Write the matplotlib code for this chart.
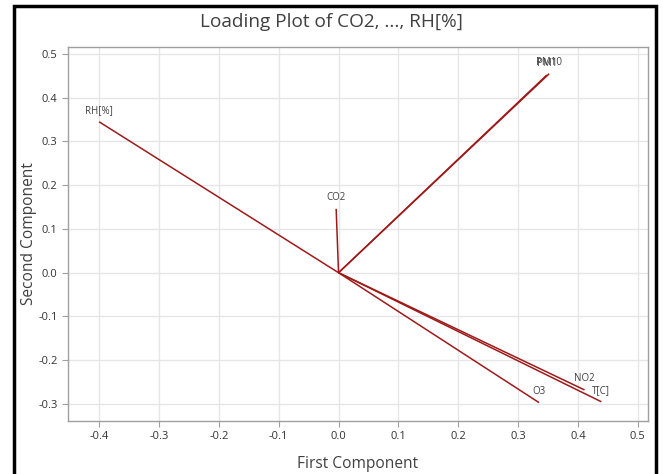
import matplotlib
matplotlib.use("Agg")
import matplotlib.pyplot as plt
from matplotlib.patches import Rectangle

plt.rcParams['font.family'] = ['Open Sans', 'DejaVu Sans']

variables = ["CO2", "PM1", "PM10", "NO2", "O3", "T[C]", "RH[%]"]
pc1 = [-0.004, 0.348, 0.352, 0.411, 0.335, 0.439, -0.400]
pc2 = [0.146, 0.452, 0.455, -0.268, -0.297, -0.295, 0.345]

xticks = [-0.4, -0.3, -0.2, -0.1, 0.0, 0.1, 0.2, 0.3, 0.4, 0.5]
yticks = [-0.3, -0.2, -0.1, 0.0, 0.1, 0.2, 0.3, 0.4, 0.5]

fig = plt.figure(figsize=(6.63, 4.74), dpi=100)
ax = fig.add_axes([68/663, 1-421/474, (648-68)/663, (421-47)/474])

line_color = "#9E1A1A"
text_color = "#404040"
for name, x, y in zip(variables, pc1, pc2):
    ax.plot([0, x], [0, y], color=line_color, lw=1.1, solid_capstyle='butt')
    ax.annotate(name, (x, y), xytext=(0, 4), textcoords='offset points',
                ha='center', va='bottom', fontsize=7, color=text_color)

ax.set_xlim(-0.452, 0.517)
ax.set_ylim(-0.339, 0.516)
ax.set_xticks(xticks)
ax.set_yticks(yticks)
ax.set_xticklabels([f"{v:.1f}" for v in xticks])
ax.set_yticklabels([f"{v:.1f}" for v in yticks])
ax.grid(True, color="#E6E6E6", lw=1.0)
ax.set_axisbelow(True)
for s in ax.spines.values():
    s.set_color("#A0A0A0")
    s.set_linewidth(1.0)
ax.tick_params(colors="#A0A0A0", labelcolor="#333333", labelsize=8, length=4, width=0.8)

ax.set_xlabel("First Component", fontsize=11.2, color="#404040", labelpad=10)
ax.set_ylabel("Second Component", fontsize=11.2, color="#404040", labelpad=1)
fig.text(0.5, 1-22/474, "Loading Plot of CO2, ..., RH[%]", ha='center', va='center',
         fontsize=13.7, color="#404040")

fig.patches.append(Rectangle((13.5/663, -0.05), (656-13.5)/663, 1.05-6/474,
                             transform=fig.transFigure, fill=False,
                             edgecolor='black', lw=2.5))

fig.savefig("out.png", dpi=100)
